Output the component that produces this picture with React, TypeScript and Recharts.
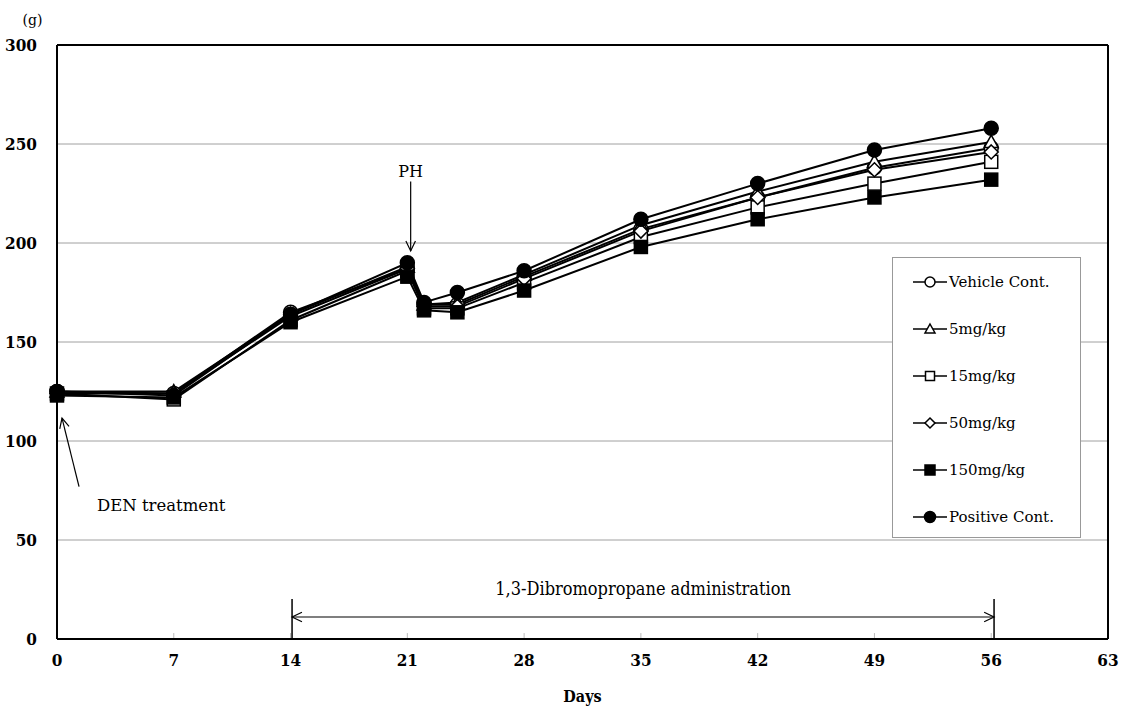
import React from "react";
import {
  LineChart, Line, XAxis, YAxis, CartesianGrid, ReferenceLine,
} from "recharts";

const days = [0, 7, 14, 21, 22, 24, 28, 35, 42, 49, 56];
const vehicle = [125, 124, 165, 187, 169, 169, 183, 207, 223, 238, 248];
const mg5 = [125, 125, 164, 188, 169, 170, 184, 209, 226, 241, 251];
const mg15 = [124, 121, 161, 186, 167, 167, 180, 203, 218, 230, 241];
const mg50 = [124, 124, 163, 187, 168, 168, 182, 206, 223, 237, 246];
const mg150 = [123, 122, 160, 183, 166, 165, 176, 198, 212, 223, 232];
const positive = [125, 123, 164, 190, 170, 175, 186, 212, 230, 247, 258];

const xTicks = [0, 7, 14, 21, 28, 35, 42, 49, 56, 63];
const yTicks = [0, 50, 100, 150, 200, 250, 300];

const series = [
  { key: "vehicle", name: "Vehicle Cont.", values: vehicle, shape: "circle", filled: false },
  { key: "mg5", name: "5mg/kg", values: mg5, shape: "triangle", filled: false },
  { key: "mg15", name: "15mg/kg", values: mg15, shape: "square", filled: false },
  { key: "mg50", name: "50mg/kg", values: mg50, shape: "diamond", filled: false },
  { key: "mg150", name: "150mg/kg", values: mg150, shape: "square", filled: true },
  { key: "positive", name: "Positive Cont.", values: positive, shape: "circle", filled: true },
];

const data = days.map((d, i) => {
  const row: Record<string, number> = { day: d };
  series.forEach((s) => (row[s.key] = s.values[i]));
  return row;
});

const SERIF = '"DejaVu Serif", "Liberation Serif", serif';
const COND = '"DejaVu Serif Condensed", "Liberation Serif", serif';

function Marker({ cx, cy, shape, filled, r = 7 }: any) {
  const fill = filled ? "#000" : "#fff";
  const common = { fill, stroke: "#000", strokeWidth: 1.5 };
  if (shape === "circle") return <circle cx={cx} cy={cy} r={r} {...common} />;
  if (shape === "square")
    return <rect x={cx - r + 0.5} y={cy - r + 0.5} width={2 * r - 1} height={2 * r - 1} {...common} />;
  if (shape === "triangle")
    return <polygon points={`${cx},${cy - r} ${cx + r},${cy + r * 0.8} ${cx - r},${cy + r * 0.8}`} {...common} />;
  return <polygon points={`${cx},${cy - r} ${cx + r},${cy} ${cx},${cy + r} ${cx - r},${cy}`} {...common} />;
}

function head(x: number, y: number, fx: number, fy: number, len = 11, ang = 0.45) {
  // open arrowhead at (x,y), pointing away from (fx,fy)
  const a = Math.atan2(fy - y, fx - x);
  const p1 = [x + len * Math.cos(a + ang), y + len * Math.sin(a + ang)];
  const p2 = [x + len * Math.cos(a - ang), y + len * Math.sin(a - ang)];
  return `M${p1[0]},${p1[1]} L${x},${y} L${p2[0]},${p2[1]}`;
}

const arrowShape = (opts: { start?: boolean; end?: boolean; text?: string; tx?: number; ty?: number; anchor?: string; font?: string; size?: number }) =>
  (p: any) => {
    const { x1, y1, x2, y2 } = p;
    return (
      <g>
        <line x1={x1} y1={y1} x2={x2} y2={y2} stroke="#000" strokeWidth={1.2} />
        {opts.end && <path d={head(x2, y2, x1, y1)} fill="none" stroke="#000" strokeWidth={1.2} />}
        {opts.start && <path d={head(x1, y1, x2, y2)} fill="none" stroke="#000" strokeWidth={1.2} />}
        {opts.text && (
          <text
            x={(opts.anchor === "middle" ? (x1 + x2) / 2 : x1) + (opts.tx || 0)}
            y={y1 + (opts.ty || 0)}
            textAnchor={opts.anchor || "start"}
            fontFamily={opts.font || SERIF}
            fontSize={opts.size || 16}
            fill="#000"
          >
            {opts.text}
          </text>
        )}
      </g>
    );
  };

const plainShape = (p: any) => (
  <line x1={p.x1} y1={p.y1} x2={p.x2} y2={p.y2} stroke={p.stroke} strokeWidth={p.strokeWidth} />
);

function LegendBox() {
  return (
    <div
      style={{
        position: "absolute", left: 892, top: 257, width: 189, height: 281,
        border: "1px solid #999", background: "#fff", boxSizing: "border-box",
      }}
    >
      {series.map((s) => (
        <div key={s.key} style={{ height: 47, display: "flex", alignItems: "center", paddingLeft: 19 }}>
          <svg width={36} height={18} style={{ flex: "none" }}>
            <line x1={1} y1={9} x2={35} y2={9} stroke="#000" strokeWidth={1.5} />
            <Marker cx={18} cy={9} shape={s.shape} filled={s.filled} r={s.filled ? 5.5 : 5} />
          </svg>
          <span style={{ fontFamily: SERIF, fontSize: 15, color: "#000", marginLeft: 1 }}>{s.name}</span>
        </div>
      ))}
    </div>
  );
}

export default function App() {
  return (
    <div style={{ position: "absolute", left: 0, top: 0, width: 1123, height: 709, background: "#fff" }}>
      <LineChart width={1123} height={709} data={data} margin={{ top: 45, right: 15, bottom: 0, left: 0 }}>
        <CartesianGrid horizontal vertical={false} stroke="#a0a0a0" strokeWidth={1} />
        <XAxis
          dataKey="day"
          type="number"
          domain={[0, 63]}
          ticks={xTicks}
          height={70}
          tickLine={false}
          axisLine={{ stroke: "#000", strokeWidth: 2 }}
          tick={{ fill: "#000", fontSize: 17, fontWeight: "bold", fontFamily: COND }}
          tickMargin={9}
          label={{ value: "Days", position: "insideTop", offset: 52, fill: "#000", fontSize: 16, fontWeight: "bold", fontFamily: COND }}
        />
        <YAxis
          type="number"
          domain={[0, 300]}
          ticks={yTicks}
          width={57}
          tickLine={false}
          axisLine={{ stroke: "#000", strokeWidth: 2 }}
          tick={{ fill: "#000", fontSize: 17, fontWeight: "bold", fontFamily: COND }}
          tickMargin={14}
          label={{ value: "(g)", position: "top", offset: 20, dx: 4, fill: "#000", fontSize: 14, fontFamily: SERIF }}
        />
        <ReferenceLine y={300} stroke="#000" strokeWidth={2} />
        <ReferenceLine x={63} stroke="#000" strokeWidth={2} />
        {xTicks.slice(1, -1).map((t) => (
          <ReferenceLine key={t} segment={[{ x: t, y: 0 }, { x: t, y: 3 }]} stroke="#bbb" strokeWidth={1} shape={plainShape} />
        ))}
        {/* PH */}
        <ReferenceLine
          segment={[{ x: 21.2, y: 231 }, { x: 21.2, y: 196 }]}
          shape={arrowShape({ end: true, text: "PH", anchor: "middle", ty: -5 })}
        />
        {/* DEN treatment */}
        <ReferenceLine
          segment={[{ x: 1.32, y: 77 }, { x: 0.3, y: 111.6 }]}
          shape={arrowShape({ end: true, text: "DEN treatment", tx: 18, ty: 24, size: 16.5 })}
        />
        {/* administration period */}
        <ReferenceLine segment={[{ x: 14.09, y: 0 }, { x: 14.09, y: 20.2 }]} stroke="#000" strokeWidth={1.5} shape={plainShape} />
        <ReferenceLine segment={[{ x: 56.17, y: 0 }, { x: 56.17, y: 20.2 }]} stroke="#000" strokeWidth={1.5} shape={plainShape} />
        <ReferenceLine
          segment={[{ x: 14.09, y: 11.1 }, { x: 56.17, y: 11.1 }]}
          shape={arrowShape({ start: true, end: true, text: "1,3-Dibromopropane administration", anchor: "middle", ty: -22, font: COND, size: 18 })}
        />
        {series.map((s) => (
          <Line
            key={s.key}
            dataKey={s.key}
            name={s.name}
            type="linear"
            stroke="#000"
            strokeWidth={2}
            isAnimationActive={false}
            dot={(p: any) => <Marker key={`${s.key}-${p.index}`} cx={p.cx} cy={p.cy} shape={s.shape} filled={s.filled} />}
            activeDot={false}
          />
        ))}
      </LineChart>
      <LegendBox />
    </div>
  );
}
